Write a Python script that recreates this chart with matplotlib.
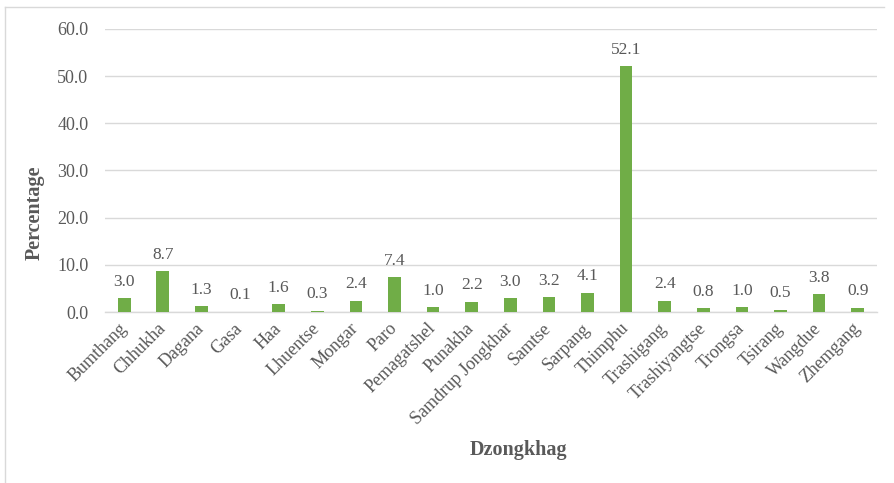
import matplotlib.pyplot as plt
from matplotlib.lines import Line2D
from matplotlib.ticker import FormatStrFormatter

plt.rcParams['font.family'] = ['Liberation Serif', 'DejaVu Serif']

dzongkhags = ['Bumthang', 'Chhukha', 'Dagana', 'Gasa', 'Haa', 'Lhuentse', 'Mongar',
              'Paro', 'Pemagatshel', 'Punakha', 'Samdrup Jongkhar', 'Samtse',
              'Sarpang', 'Thimphu', 'Trashigang', 'Trashiyangtse', 'Trongsa',
              'Tsirang', 'Wangdue', 'Zhemgang']
percentages = [3.0, 8.7, 1.3, 0.1, 1.6, 0.3, 2.4, 7.4, 1.0, 2.2, 3.0, 3.2, 4.1,
               52.1, 2.4, 0.8, 1.0, 0.5, 3.8, 0.9]

text_grey = '#595959'
grid_grey = '#D9D9D9'
bar_green = '#70AD47'

fig = plt.figure(figsize=(8.94, 4.83), dpi=100)
ax = fig.add_axes([0.1174, 0.354, 0.8636, 0.586])

x = range(len(dzongkhags))
bars = ax.bar(x, percentages, width=0.33, color=bar_green, zorder=3)

for rect, val in zip(bars, percentages):
    ax.annotate(f'{val:.1f}', (rect.get_x() + rect.get_width() / 2, val),
                xytext=(0, 6), textcoords='offset points',
                ha='center', va='bottom', fontsize=12.5, color=text_grey)

ax.set_xlim(-0.5, len(dzongkhags) - 0.5)
ax.set_ylim(0, 60)
ax.set_yticks(range(0, 61, 10))
ax.yaxis.set_major_formatter(FormatStrFormatter('%.1f'))
ax.yaxis.grid(True, color=grid_grey, linewidth=1.0, zorder=0)

ax.set_xticks(list(x))
ax.set_xticklabels(dzongkhags, rotation=45, ha='right', va='center',
                   rotation_mode='anchor')
ax.tick_params(axis='both', length=0, labelsize=13, colors=text_grey)
ax.tick_params(axis='x', pad=10)
ax.tick_params(axis='y', pad=12)

for side in ['top', 'right', 'left']:
    ax.spines[side].set_visible(False)
ax.spines['bottom'].set_color(grid_grey)
ax.spines['bottom'].set_linewidth(1.0)

fig.text(0.580, 1 - 450 / 483, 'Dzongkhag', ha='center', va='center',
         fontsize=14.5, fontweight='bold', color=text_grey)
fig.text(35 / 894, 1 - 213 / 483, 'Percentage', ha='center', va='center',
         rotation=90, fontsize=14.5, fontweight='bold', color=text_grey)

# thin frame around the chart area
fig.add_artist(Line2D([5 / 894, 884 / 894], [1 - 7 / 483, 1 - 7 / 483],
                      color=grid_grey, linewidth=1.0))
fig.add_artist(Line2D([5 / 894, 5 / 894], [1 - 7 / 483, 0],
                      color=grid_grey, linewidth=1.0))

fig.savefig('out.png', dpi=100)
